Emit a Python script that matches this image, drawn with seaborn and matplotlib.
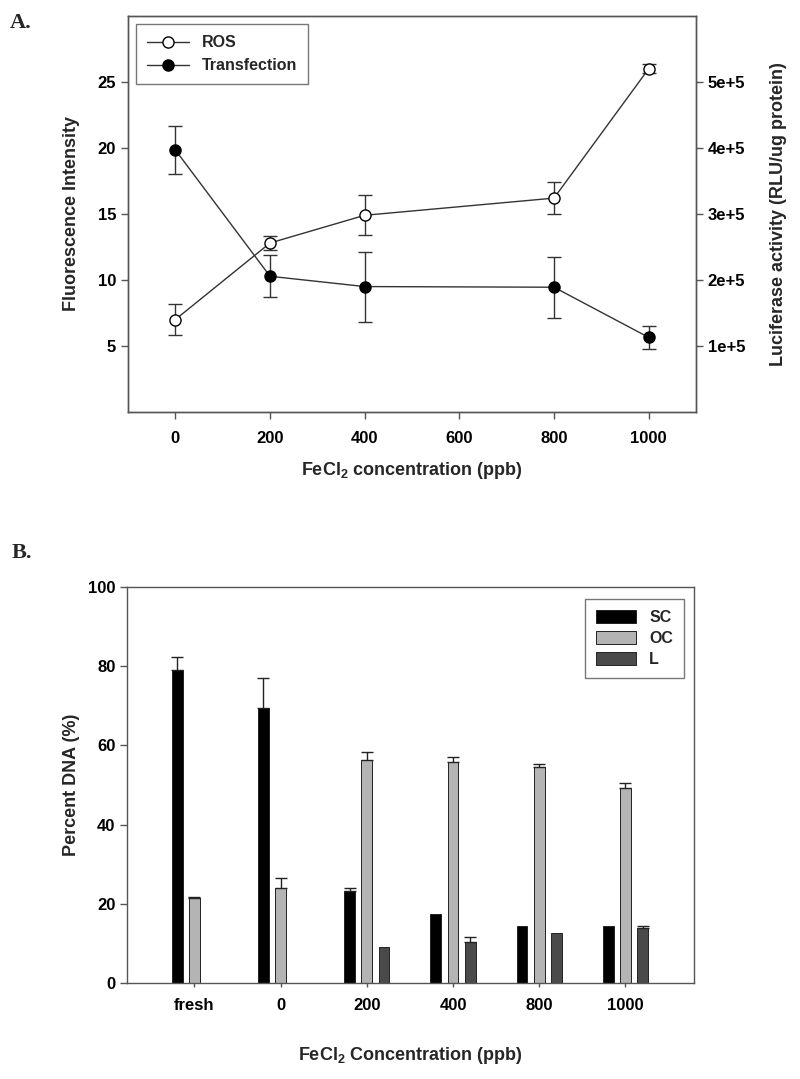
import matplotlib
matplotlib.use("Agg")
import matplotlib.pyplot as plt
import numpy as np
import pandas as pd
import seaborn as sns
from matplotlib.lines import Line2D
from matplotlib.ticker import FixedLocator, FuncFormatter

# ---- panel A data ----
conc = [0, 200, 400, 800, 1000]
ros = [7.0, 12.8, 14.9, 16.2, 26.0]
ros_err = [1.15, 0.5, 1.5, 1.2, 0.35]
transfection = [397000, 205600, 190000, 189000, 113000]
transfection_err = [36000, 32000, 53000, 46000, 17000]

# ---- panel B data ----
categories = ["fresh", "0", "200", "400", "800", "1000"]
forms = ["SC", "OC", "L"]
sc = [79.0, 69.5, 23.3, 17.4, 14.5, 14.5]
oc = [21.4, 23.9, 56.4, 55.8, 54.5, 49.3]
lin = [0.0, 0.0, 9.0, 10.3, 12.7, 14.0]
sc_err = [3.2, 7.4, 0.6, np.nan, np.nan, np.nan]
oc_err = [0.4, 2.5, 1.9, 1.3, 0.9, 1.3]
lin_err = [np.nan, np.nan, np.nan, 1.2, np.nan, 0.3]
form_colors = ["#000000", "#b4b4b4", "#4a4a4a"]

sns.set_style("ticks")
plt.rcParams["font.family"] = ["Liberation Sans", "DejaVu Sans"]
plt.rcParams["font.weight"] = "bold"
plt.rcParams["mathtext.fontset"] = "custom"
plt.rcParams["mathtext.rm"] = "Liberation Sans:bold"
plt.rcParams["mathtext.default"] = "rm"
plt.rcParams["axes.edgecolor"] = "#555555"
plt.rcParams["axes.linewidth"] = 1.0
plt.rcParams["xtick.color"] = "#555555"
plt.rcParams["ytick.color"] = "#555555"
plt.rcParams["xtick.labelcolor"] = "black"
plt.rcParams["ytick.labelcolor"] = "black"

TICK_FS = 12
LABEL_FS = 13

fig = plt.figure(figsize=(8, 10.79), dpi=100)

# ================= Panel A =================
ax = fig.add_axes([0.16, 0.6182, 0.71, 0.367])
ax2 = ax.twinx()

line_kw = dict(color="#333333", lw=1.0, marker="o", ms=8, mec="black", mew=1.0)
sns.lineplot(x=conc, y=ros, ax=ax, mfc="white", **line_kw)
ax.errorbar(conc, ros, yerr=ros_err, fmt="none", ecolor="#333333",
            elinewidth=1.0, capsize=5, capthick=1.0, zorder=1)
sns.lineplot(x=conc, y=transfection, ax=ax2, mfc="black", **line_kw)
ax2.errorbar(conc, transfection, yerr=transfection_err, fmt="none",
             ecolor="#333333", elinewidth=1.0, capsize=5, capthick=1.0, zorder=1)

ax.set_xlim(-100, 1100)
ax.set_ylim(0, 30)
ax2.set_ylim(0, 6e5)
ax.set_xticks([0, 200, 400, 600, 800, 1000])
ax.set_yticks([5, 10, 15, 20, 25])
ax2.yaxis.set_major_locator(FixedLocator([1e5, 2e5, 3e5, 4e5, 5e5]))
ax2.yaxis.set_major_formatter(FuncFormatter(lambda v, p: f"{int(round(v / 1e5))}e+5"))
for a in (ax, ax2):
    a.tick_params(labelsize=TICK_FS, length=5, width=1.0)
    for sp in a.spines.values():
        sp.set_visible(True)
        sp.set_color("#555555")
ax.tick_params(axis="x", pad=9)
ax.set_xlabel("FeCl$_2$ concentration (ppb)", fontsize=LABEL_FS, fontweight="bold", labelpad=10)
ax.set_ylabel("Fluorescence Intensity", fontsize=LABEL_FS, fontweight="bold", labelpad=13)
ax2.set_ylabel("Luciferase activity (RLU/ug protein)", fontsize=LABEL_FS,
               fontweight="bold", labelpad=18)

handles = [
    Line2D([], [], color="#333333", lw=1.0, marker="o", ms=8, mfc="white", mec="black"),
    Line2D([], [], color="#333333", lw=1.0, marker="o", ms=8, mfc="black", mec="black"),
]
leg = ax2.legend(handles, ["ROS", "Transfection"], loc="upper left",
                 bbox_to_anchor=(0.0, 1.0), fontsize=11.5, frameon=True,
                 fancybox=False, edgecolor="#555555", handlelength=2.6,
                 borderpad=0.7, labelspacing=0.5)
leg.get_frame().set_linewidth(1.0)

fig.text(0.012, 0.979, "A.", fontsize=16, fontweight="bold",
         family=["Liberation Serif", "DejaVu Serif"], va="center")

# ================= Panel B =================
bx = fig.add_axes([0.159, 0.089, 0.709, 0.367])
df = pd.DataFrame({
    "conc": categories * 3,
    "form": [f for f in forms for _ in categories],
    "pct": sc + oc + lin,
    "err": sc_err + oc_err + lin_err,
})
sns.barplot(data=df, x="conc", y="pct", hue="form", order=categories,
            hue_order=forms, palette=form_colors, width=0.6, gap=0.38,
            edgecolor="#222222", linewidth=0.7, ax=bx, errorbar=None)

for container, form in zip(bx.containers, forms):
    sub = df[df["form"] == form].set_index("conc").loc[categories]
    for patch, (val, err) in zip(container.patches, zip(sub["pct"], sub["err"])):
        if np.isnan(err):
            continue
        xc = patch.get_x() + patch.get_width() / 2
        bx.errorbar([xc], [val], yerr=[[0], [err]], fmt="none", ecolor="#222222",
                    elinewidth=1.0, capsize=4, capthick=1.0, zorder=1)

bx.set_xlim(-0.78, 5.8)
bx.set_ylim(0, 100)
bx.set_yticks([0, 20, 40, 60, 80, 100])
for sp in bx.spines.values():
    sp.set_visible(True)
    sp.set_color("#555555")
bx.tick_params(axis="y", labelsize=TICK_FS, length=5, width=1.0)
bx.tick_params(axis="x", labelsize=TICK_FS, length=3, width=1.0, pad=8)
bx.set_xlabel("FeCl$_2$ Concentration (ppb)", fontsize=LABEL_FS, fontweight="bold", labelpad=23)
bx.set_ylabel("Percent DNA (%)", fontsize=LABEL_FS, fontweight="bold", labelpad=6)

lg = bx.legend(loc="upper right", bbox_to_anchor=(0.996, 0.99), fontsize=11.5,
               frameon=True, fancybox=False, edgecolor="#555555",
               handlelength=2.5, handleheight=0.9, borderpad=0.7,
               labelspacing=0.35, title=None)
lg.get_frame().set_linewidth(1.0)

fig.text(0.015, 0.4875, "B.", fontsize=16, fontweight="bold",
         family=["Liberation Serif", "DejaVu Serif"], va="center")

fig.savefig("out.png", dpi=100)
